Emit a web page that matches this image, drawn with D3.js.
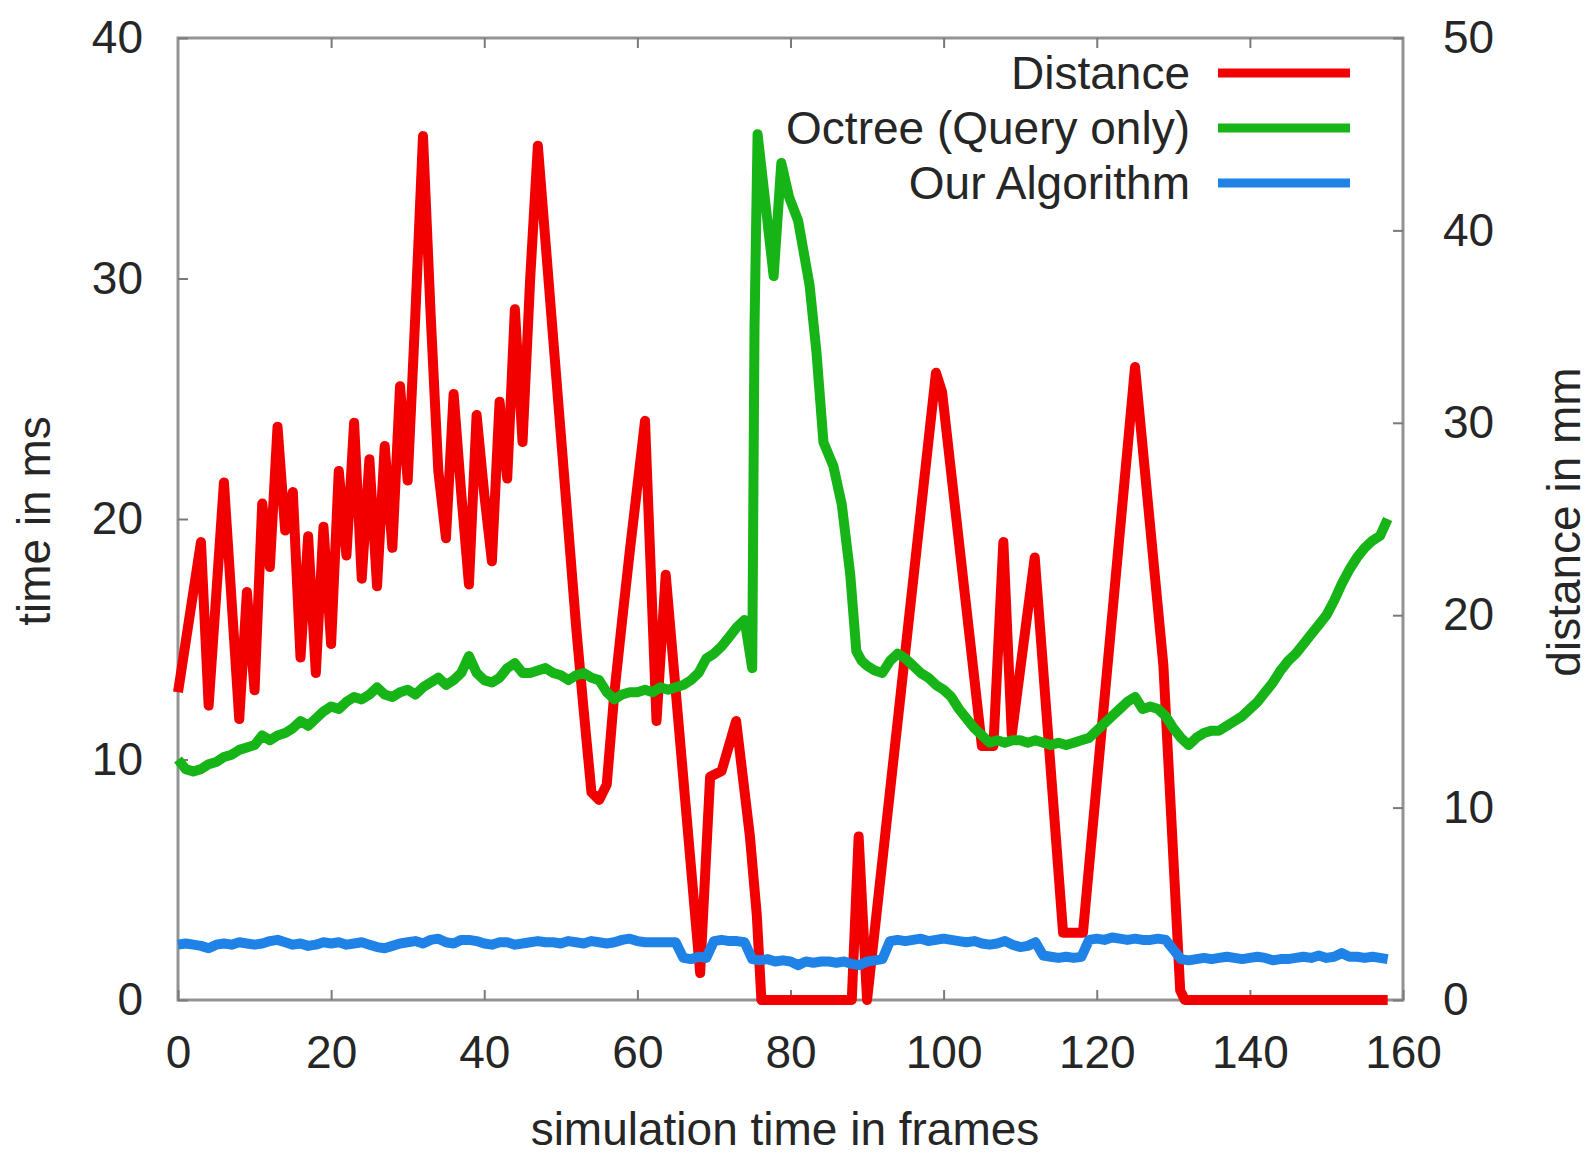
<!DOCTYPE html>
<html><head><meta charset="utf-8">
<script src="https://cdn.jsdelivr.net/npm/d3@7"></script>
<style>
html,body{margin:0;padding:0;background:#fff;}
svg{display:block;}
text{font-family:"Liberation Sans", Arial, Helvetica, sans-serif; fill:#262626;}
</style></head><body>
<svg id="chart" width="1589" height="1154"></svg>
<script>
// ---------- data ----------
const xTicks = [0, 20, 40, 60, 80, 100, 120, 140, 160];
const yLeftTicks = [0, 10, 20, 30, 40];
const yRightTicks = [0, 10, 20, 30, 40, 50];
const seriesNames = ["Distance", "Octree (Query only)", "Our Algorithm"];
const seriesColors = ["#f20000", "#16b416", "#1e82e6"];
const xTitle = "simulation time in frames";
const yLeftTitle = "time in ms";
const yRightTitle = "distance in mm";

// Distance (mm, right axis)
const distanceFrames = [0,3,4,6,8,9,10,11,12,13,14,15,16,17,18,19,20,21,22,23,24,25,26,27,28,29,30,31,32,33,34,35,36,37,38,39,40,41,42,43,44,45,46,47,48,49,50,51,52,53,54,55,56,57,58,59,60,61,62.5,63.7,68.2,69.5,71,72.9,74.7,75.6,76.2,88,88.9,90,99,99.8,105,106.5,107.8,108.9,111.9,115.6,118.2,125,128.7,130.9,131.5,158];
const distanceMM = [16.0,23.8,15.3,26.9,14.6,21.2,16.1,25.8,22.5,29.8,24.4,26.4,17.8,24.1,17.0,24.6,18.5,27.5,23.1,30.0,21.9,28.1,21.5,28.8,23.5,31.9,27.0,35.6,44.9,35.6,27.5,24.0,31.5,26.3,21.6,30.4,26.3,22.8,31.1,27.1,35.9,29.0,37.5,44.4,39.4,34.4,29.4,24.4,19.4,15.0,10.8,10.4,11.2,16.0,19.7,23.3,26.7,30.1,14.5,22.1,1.4,11.6,11.9,14.5,8.5,4.4,0,0,8.5,0,32.6,31.6,13.2,13.2,23.8,13.8,23.0,3.5,3.5,32.9,17.4,0.5,0,0];

// Octree (ms, left axis)
const octreeFrames = d3.range(0, 75)
  .concat([75.0,75.3,75.7,77.8,78.8,79.8,81.0,82.5,83.4,84.3,85.6,86.7,87.8,88.6,89.3])
  .concat(d3.range(90, 159));
const octreeMs = [
  10.0,9.6,9.5,9.6,9.8,9.9,10.1,10.2,10.4,10.5,
  10.6,11.0,10.8,11.0,11.1,11.3,11.6,11.4,11.7,12.0,
  12.2,12.1,12.4,12.6,12.5,12.7,13.0,12.7,12.6,12.8,
  12.9,12.7,13.0,13.2,13.4,13.1,13.3,13.6,14.3,13.6,
  13.3,13.2,13.4,13.8,14.0,13.6,13.6,13.7,13.8,13.6,
  13.5,13.3,13.5,13.6,13.4,13.3,12.8,12.5,12.7,12.8,
  12.8,12.9,12.8,13.0,12.9,13.0,13.1,13.3,13.6,14.2,
  14.4,14.7,15.1,15.5,15.8,
  13.8,28.0,36.0,30.1,34.8,33.4,32.4,29.7,26.9,23.2,22.2,20.6,17.7,14.5,14.1,
  13.9,13.7,13.6,14.1,14.4,14.2,13.9,13.6,13.4,13.1,
  12.9,12.6,12.1,11.7,11.3,11.0,10.7,10.8,10.7,10.8,
  10.8,10.7,10.8,10.7,10.6,10.7,10.6,10.7,10.8,10.9,
  11.2,11.5,11.8,12.1,12.4,12.6,12.1,12.2,12.1,11.8,
  11.3,10.9,10.6,10.9,11.1,11.2,11.2,11.4,11.6,11.8,
  12.1,12.4,12.8,13.2,13.7,14.1,14.4,14.8,15.2,15.6,
  16.0,16.6,17.3,17.9,18.4,18.8,19.1,19.3,20.0
];

// Our Algorithm (ms, left axis)
const algoFrames = d3.range(0, 159);
const algoMs = [
  2.3,2.35,2.3,2.25,2.15,2.3,2.35,2.3,2.4,2.35,
  2.3,2.35,2.45,2.5,2.4,2.3,2.35,2.25,2.3,2.4,
  2.35,2.4,2.3,2.35,2.4,2.3,2.2,2.15,2.25,2.35,
  2.4,2.45,2.35,2.5,2.55,2.4,2.35,2.5,2.5,2.45,
  2.35,2.3,2.4,2.4,2.3,2.35,2.4,2.45,2.4,2.4,
  2.35,2.45,2.4,2.35,2.45,2.4,2.35,2.4,2.5,2.55,
  2.45,2.4,2.4,2.4,2.4,2.4,1.75,1.7,1.8,1.75,
  2.45,2.5,2.45,2.45,2.4,1.7,1.65,1.7,1.6,1.65,
  1.6,1.45,1.6,1.55,1.6,1.6,1.55,1.6,1.5,1.45,
  1.6,1.65,1.7,2.45,2.5,2.45,2.5,2.55,2.45,2.5,
  2.55,2.5,2.45,2.4,2.45,2.35,2.3,2.35,2.45,2.3,
  2.2,2.25,2.4,1.85,1.8,1.75,1.8,1.75,1.8,2.5,
  2.55,2.5,2.6,2.55,2.5,2.55,2.5,2.5,2.55,2.5,
  2.1,1.7,1.65,1.7,1.75,1.7,1.75,1.8,1.75,1.7,
  1.75,1.8,1.75,1.65,1.7,1.7,1.75,1.8,1.75,1.85,
  1.75,1.8,1.95,1.8,1.8,1.75,1.8,1.75,1.7
];

// ---------- layout ----------
const L = 178, R = 1403, T = 38, B = 1000;
const FS = 46;
const svg = d3.select("#chart");

const x = d3.scaleLinear().domain([0, 160]).range([L, R]);
const yL = d3.scaleLinear().domain([0, 40]).range([B, T]);
const yR = d3.scaleLinear().domain([0, 50]).range([B, T]);

// frame
svg.append("rect").attr("x", L).attr("y", T).attr("width", R - L).attr("height", B - T)
  .attr("fill", "none").attr("stroke", "#939393").attr("stroke-width", 3);

function styleAxis(g) {
  g.select(".domain").remove();
  g.selectAll(".tick line").attr("stroke", "#7a7a7a").attr("stroke-width", 2);
  g.selectAll(".tick text").attr("font-size", FS).attr("fill", "#262626")
    .attr("font-family", '"Liberation Sans", Arial, sans-serif');
}

svg.append("g").attr("transform", `translate(0,${B})`)
  .call(d3.axisBottom(x).tickValues(xTicks).tickSize(-10).tickPadding(35).tickFormat(d3.format("d")))
  .call(styleAxis);
svg.append("g").attr("transform", `translate(0,${T})`)
  .call(d3.axisTop(x).tickValues(xTicks.slice(1, -1)).tickSize(-10).tickFormat(""))
  .call(styleAxis);
svg.append("g").attr("transform", `translate(${L},0)`)
  .call(d3.axisLeft(yL).tickValues(yLeftTicks).tickSize(-10).tickPadding(35).tickFormat(d3.format("d")))
  .call(styleAxis);
svg.append("g").attr("transform", `translate(${R},0)`)
  .call(d3.axisRight(yR).tickValues(yRightTicks).tickSize(-10).tickPadding(40).tickFormat(d3.format("d")))
  .call(styleAxis);

// titles
svg.append("text").attr("x", 785).attr("y", 1145).attr("text-anchor", "middle")
  .attr("font-size", FS).text(xTitle);
svg.append("text").attr("transform", "translate(50,521) rotate(-90)").attr("text-anchor", "middle")
  .attr("font-size", FS).text(yLeftTitle);
svg.append("text").attr("transform", "translate(1580,522) rotate(-90)").attr("text-anchor", "middle")
  .attr("font-size", FS).text(yRightTitle);

// lines
const series = [
  { pts: distanceFrames.map((f, i) => [f, distanceMM[i]]), y: yR },
  { pts: octreeFrames.map((f, i) => [f, octreeMs[i]]), y: yL },
  { pts: algoFrames.map((f, i) => [f, algoMs[i]]), y: yL }
];
series.forEach((s, i) => {
  const line = d3.line().x(d => x(d[0])).y(d => s.y(d[1]));
  svg.append("path").datum(s.pts).attr("d", line)
    .attr("fill", "none").attr("stroke", seriesColors[i]).attr("stroke-width", 10)
    .attr("stroke-linejoin", "round").attr("stroke-linecap", "butt");
});

// legend
const legendY = d3.scalePoint().domain(seriesNames).range([73, 183]);
seriesNames.forEach((name, i) => {
  const ly = legendY(name);
  svg.append("text").attr("x", 1190).attr("y", ly + 16).attr("text-anchor", "end")
    .attr("font-size", FS).text(name);
  svg.append("line").attr("x1", 1218).attr("x2", 1350).attr("y1", ly).attr("y2", ly)
    .attr("stroke", seriesColors[i]).attr("stroke-width", 9);
});
</script>
</body></html>
